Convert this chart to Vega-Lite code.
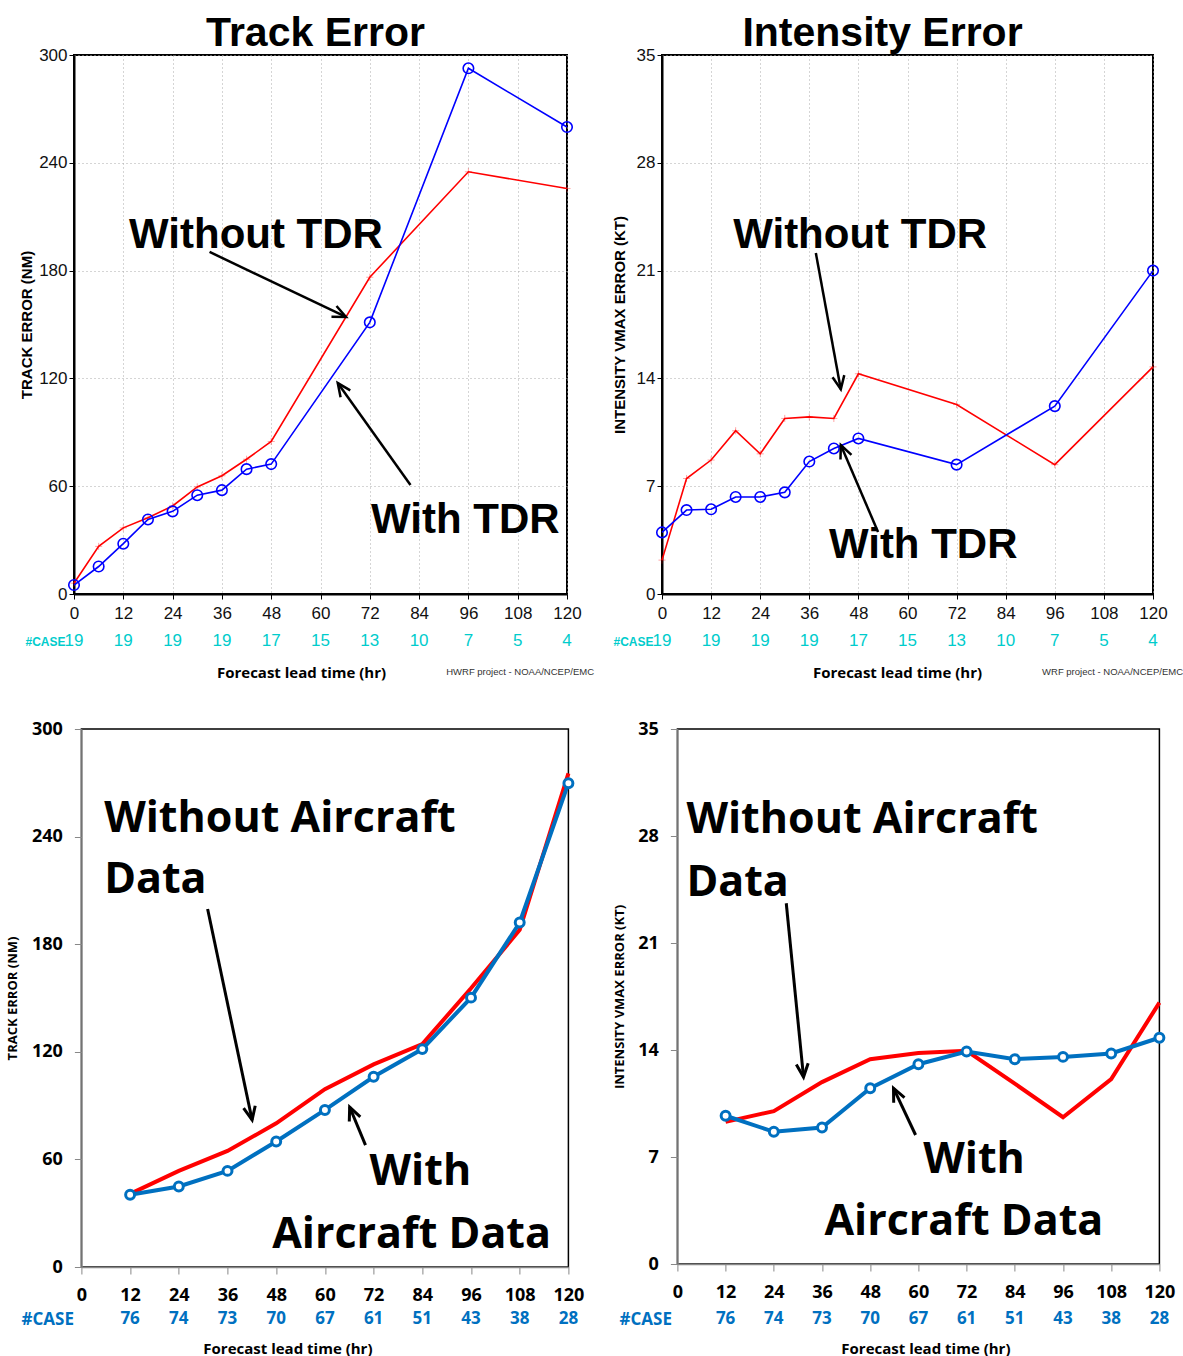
{
  "$schema": "https://vega.github.io/schema/vega-lite/v6.json",
  "background": "white",
  "padding": {"left": 5, "top": 12, "right": 0, "bottom": 0},
  "config": {
    "axis": {"labelFlush": false, "labelOverlap": false},
    "title": {"color": "#000"}
  },
  "datasets": {
    "tl": [
      {"h": 0, "v": 6, "s": "without"}, {"h": 6, "v": 26.5, "s": "without"}, {"h": 12, "v": 36.8, "s": "without"},
      {"h": 18, "v": 42.4, "s": "without"}, {"h": 24, "v": 49, "s": "without"}, {"h": 30, "v": 59.6, "s": "without"},
      {"h": 36, "v": 65.8, "s": "without"}, {"h": 42, "v": 75, "s": "without"}, {"h": 48, "v": 84.9, "s": "without"},
      {"h": 72, "v": 176.3, "s": "without"}, {"h": 96, "v": 235, "s": "without"}, {"h": 120, "v": 225.7, "s": "without"},
      {"h": 0, "v": 5, "s": "with"}, {"h": 6, "v": 15.3, "s": "with"}, {"h": 12, "v": 28, "s": "with"},
      {"h": 18, "v": 41.5, "s": "with"}, {"h": 24, "v": 46, "s": "with"}, {"h": 30, "v": 55, "s": "with"},
      {"h": 36, "v": 57.8, "s": "with"}, {"h": 42, "v": 69.5, "s": "with"}, {"h": 48, "v": 72.3, "s": "with"},
      {"h": 72, "v": 151.2, "s": "with"}, {"h": 96, "v": 292.6, "s": "with"}, {"h": 120, "v": 259.9, "s": "with"}
    ],
    "tr": [
      {"h": 0, "v": 2.2, "s": "without"}, {"h": 6, "v": 7.5, "s": "without"}, {"h": 12, "v": 8.7, "s": "without"},
      {"h": 18, "v": 10.6, "s": "without"}, {"h": 24, "v": 9.1, "s": "without"}, {"h": 30, "v": 11.4, "s": "without"},
      {"h": 36, "v": 11.5, "s": "without"}, {"h": 42, "v": 11.4, "s": "without"}, {"h": 48, "v": 14.3, "s": "without"},
      {"h": 72, "v": 12.3, "s": "without"}, {"h": 96, "v": 8.4, "s": "without"}, {"h": 120, "v": 14.75, "s": "without"},
      {"h": 0, "v": 4.0, "s": "with"}, {"h": 6, "v": 5.45, "s": "with"}, {"h": 12, "v": 5.5, "s": "with"},
      {"h": 18, "v": 6.3, "s": "with"}, {"h": 24, "v": 6.3, "s": "with"}, {"h": 30, "v": 6.6, "s": "with"},
      {"h": 36, "v": 8.6, "s": "with"}, {"h": 42, "v": 9.45, "s": "with"}, {"h": 48, "v": 10.1, "s": "with"},
      {"h": 72, "v": 8.4, "s": "with"}, {"h": 96, "v": 12.2, "s": "with"}, {"h": 120, "v": 21.0, "s": "with"}
    ],
    "bl": [
      {"h": 12, "v": 40.8, "s": "without"}, {"h": 24, "v": 53.6, "s": "without"}, {"h": 36, "v": 64.7, "s": "without"},
      {"h": 48, "v": 80.1, "s": "without"}, {"h": 60, "v": 99.2, "s": "without"}, {"h": 72, "v": 113, "s": "without"},
      {"h": 84, "v": 124.3, "s": "without"}, {"h": 96, "v": 155.4, "s": "without"}, {"h": 108, "v": 188, "s": "without"},
      {"h": 120, "v": 275.3, "s": "without"},
      {"h": 12, "v": 40.3, "s": "with"}, {"h": 24, "v": 44.9, "s": "with"}, {"h": 36, "v": 53.6, "s": "with"},
      {"h": 48, "v": 70, "s": "with"}, {"h": 60, "v": 87.6, "s": "with"}, {"h": 72, "v": 106.1, "s": "with"},
      {"h": 84, "v": 121.5, "s": "with"}, {"h": 96, "v": 150.2, "s": "with"}, {"h": 108, "v": 192.1, "s": "with"},
      {"h": 120, "v": 269.8, "s": "with"}
    ],
    "br": [
      {"h": 12, "v": 9.3, "s": "without"}, {"h": 24, "v": 10.0, "s": "without"}, {"h": 36, "v": 11.9, "s": "without"},
      {"h": 48, "v": 13.4, "s": "without"}, {"h": 60, "v": 13.8, "s": "without"}, {"h": 72, "v": 13.95, "s": "without"},
      {"h": 84, "v": 11.8, "s": "without"}, {"h": 96, "v": 9.6, "s": "without"}, {"h": 108, "v": 12.1, "s": "without"},
      {"h": 120, "v": 17.1, "s": "without"},
      {"h": 12, "v": 9.7, "s": "with"}, {"h": 24, "v": 8.65, "s": "with"}, {"h": 36, "v": 8.93, "s": "with"},
      {"h": 48, "v": 11.5, "s": "with"}, {"h": 60, "v": 13.07, "s": "with"}, {"h": 72, "v": 13.9, "s": "with"},
      {"h": 84, "v": 13.4, "s": "with"}, {"h": 96, "v": 13.55, "s": "with"}, {"h": 108, "v": 13.77, "s": "with"},
      {"h": 120, "v": 14.8, "s": "with"}
    ],
    "ct": [
      {"h": 0, "n": 19, "lab": "#CASE"}, {"h": 12, "n": 19, "lab": "#CASE"}, {"h": 24, "n": 19, "lab": "#CASE"},
      {"h": 36, "n": 19, "lab": "#CASE"}, {"h": 48, "n": 17, "lab": "#CASE"}, {"h": 60, "n": 15, "lab": "#CASE"},
      {"h": 72, "n": 13, "lab": "#CASE"}, {"h": 84, "n": 10, "lab": "#CASE"}, {"h": 96, "n": 7, "lab": "#CASE"},
      {"h": 108, "n": 5, "lab": "#CASE"}, {"h": 120, "n": 4, "lab": "#CASE"}
    ],
    "cb": [
      {"h": 12, "n": 76, "lab": "#CASE"}, {"h": 24, "n": 74, "lab": "#CASE"}, {"h": 36, "n": 73, "lab": "#CASE"},
      {"h": 48, "n": 70, "lab": "#CASE"}, {"h": 60, "n": 67, "lab": "#CASE"}, {"h": 72, "n": 61, "lab": "#CASE"},
      {"h": 84, "n": 51, "lab": "#CASE"}, {"h": 96, "n": 43, "lab": "#CASE"}, {"h": 108, "n": 38, "lab": "#CASE"},
      {"h": 120, "n": 28, "lab": "#CASE"}
    ],
    "ann": [
      {"p": "tl", "x": 13.4, "y": 192.6, "t": "Without TDR"},
      {"p": "tl", "x": 72.3, "y": 34.0, "t": "With TDR"},
      {"p": "tr", "x": 17.4, "y": 22.47, "t": "Without TDR"},
      {"p": "tr", "x": 40.8, "y": 2.34, "t": "With TDR"},
      {"p": "bl", "x": 5.6, "y": 242.6, "t": "Without Aircraft"},
      {"p": "bl", "x": 5.6, "y": 208.5, "t": "Data"},
      {"p": "bl", "x": 71.0, "y": 45.7, "t": "With"},
      {"p": "bl", "x": 47.0, "y": 10.6, "t": "Aircraft Data"},
      {"p": "br", "x": 2.24, "y": 28.2, "t": "Without Aircraft"},
      {"p": "br", "x": 2.24, "y": 24.1, "t": "Data"},
      {"p": "br", "x": 61.2, "y": 5.95, "t": "With"},
      {"p": "br", "x": 36.6, "y": 1.9, "t": "Aircraft Data"}
    ],
    "arr": [
      {"p": "tl", "x": 33.0, "y": 190.4, "x2": 66.2, "y2": 154.2, "a": 115},
      {"p": "tl", "x": 81.9, "y": 60.7, "x2": 64.2, "y2": 117.4, "a": -35.4},
      {"p": "tr", "x": 37.6, "y": 22.14, "x2": 43.7, "y2": 13.3, "a": 169.6},
      {"p": "tr", "x": 52.8, "y": 4.03, "x2": 43.7, "y2": 9.67, "a": -23},
      {"p": "bl", "x": 31.1, "y": 199.6, "x2": 42.06, "y2": 82, "a": 168.2},
      {"p": "bl", "x": 70.0, "y": 68.0, "x2": 66.1, "y2": 89.2, "a": -22.8},
      {"p": "br", "x": 27.1, "y": 23.6, "x2": 31.4, "y2": 12.23, "a": 174.4},
      {"p": "br", "x": 59.3, "y": 8.44, "x2": 53.8, "y2": 11.5, "a": -25}
    ]
  },
  "columns": 1,
  "center": true,
  "spacing": 39,
  "concat": [
    {
      "columns": 2,
      "spacing": {"row": 9, "column": 17},
      "concat": [
        {
          "width": 493, "height": 539,
          "view": {"stroke": "#000", "strokeWidth": 2},
          "title": {"text": "Track Error", "font": "Liberation Sans", "fontSize": 41, "fontWeight": "bold", "frame": "group", "anchor": "middle", "baseline": "alphabetic", "offset": -41, "dx": -5},
          "layer": [
            {
              "data": {"name": "tl"},
              "transform": [{"filter": "datum.s == 'without'"}],
              "mark": {"type": "line", "color": "#FF0000", "strokeWidth": 1.6},
              "encoding": {
                "x": {"field": "h", "type": "quantitative", "scale": {"domain": [0, 120], "nice": false},
                  "axis": {"values": [0, 12, 24, 36, 48, 60, 72, 84, 96, 108, 120], "title": null, "labelFont": "Liberation Sans", "labelFontSize": 17, "labelColor": "#111", "tickSize": 5, "tickColor": "#000", "domainColor": "#000", "domainWidth": 2, "labelPadding": 6, "grid": true, "gridDash": [1, 3], "gridColor": "#aaa"}},
                "y": {"field": "v", "type": "quantitative", "scale": {"domain": [0, 300], "nice": false},
                  "axis": {"values": [0, 60, 120, 180, 240, 300], "title": "TRACK ERROR (NM)", "titleFont": "Liberation Sans", "titleFontSize": 15, "titleFontWeight": "bold", "titlePadding": 4, "titleColor": "#000", "labelFont": "Liberation Sans", "labelFontSize": 17, "labelColor": "#111", "tickSize": 5, "tickColor": "#000", "domainColor": "#000", "domainWidth": 2, "labelPadding": 2, "grid": true, "gridDash": [1, 3], "gridColor": "#aaa"}}
              }
            },
            {
              "data": {"name": "tl"},
              "transform": [{"filter": "datum.s == 'without'"}],
              "mark": {"type": "point", "shape": "M-1,0L1,0M0,-1L0,1", "filled": false, "color": "#FF0000", "opacity": 0.35, "size": 50, "strokeWidth": 1},
              "encoding": {"x": {"field": "h", "type": "quantitative", "scale": {"domain": [0, 120]}}, "y": {"field": "v", "type": "quantitative", "scale": {"domain": [0, 300]}}}
            },
            {
              "data": {"name": "tl"},
              "transform": [{"filter": "datum.s == 'with'"}],
              "mark": {"type": "line", "color": "#0000FF", "strokeWidth": 1.6},
              "encoding": {"x": {"field": "h", "type": "quantitative", "scale": {"domain": [0, 120]}}, "y": {"field": "v", "type": "quantitative", "scale": {"domain": [0, 300]}}}
            },
            {
              "data": {"name": "tl"},
              "transform": [{"filter": "datum.s == 'with'"}],
              "mark": {"type": "point", "shape": "circle", "filled": false, "color": "#0000FF", "opacity": 1, "size": 110, "strokeWidth": 1.6},
              "encoding": {"x": {"field": "h", "type": "quantitative", "scale": {"domain": [0, 120]}}, "y": {"field": "v", "type": "quantitative", "scale": {"domain": [0, 300]}}}
            },
            {
              "data": {"name": "ann"},
              "transform": [{"filter": "datum.p == 'tl'"}],
              "mark": {"type": "text", "font": "Liberation Sans", "fontWeight": "bold", "fontSize": 42, "align": "left", "baseline": "alphabetic", "color": "#000"},
              "encoding": {"x": {"field": "x", "type": "quantitative", "scale": {"domain": [0, 120]}}, "y": {"field": "y", "type": "quantitative", "scale": {"domain": [0, 300]}}, "text": {"field": "t"}}
            },
            {
              "data": {"name": "arr"},
              "transform": [{"filter": "datum.p == 'tl'"}],
              "mark": {"type": "rule", "color": "#000", "strokeWidth": 2.5},
              "encoding": {"x": {"field": "x", "type": "quantitative", "scale": {"domain": [0, 120]}}, "y": {"field": "y", "type": "quantitative", "scale": {"domain": [0, 300]}}, "x2": {"field": "x2"}, "y2": {"field": "y2"}}
            },
            {
              "data": {"name": "arr"},
              "transform": [{"filter": "datum.p == 'tl'"}],
              "mark": {"type": "point", "shape": "M-0.45,1L0,0L0.45,1", "filled": false, "color": "#000", "opacity": 1, "size": 700, "strokeWidth": 2.5},
              "encoding": {"x": {"field": "x2", "type": "quantitative", "scale": {"domain": [0, 120]}}, "y": {"field": "y2", "type": "quantitative", "scale": {"domain": [0, 300]}}, "angle": {"field": "a", "type": "quantitative", "scale": null}}
            }
          ]
        },
        {
          "width": 491, "height": 539,
          "view": {"stroke": "#000", "strokeWidth": 2},
          "title": {"text": "Intensity Error", "font": "Liberation Sans", "fontSize": 41, "fontWeight": "bold", "frame": "group", "anchor": "middle", "baseline": "alphabetic", "offset": -41, "dx": -25},
          "layer": [
            {
              "data": {"name": "tr"},
              "transform": [{"filter": "datum.s == 'without'"}],
              "mark": {"type": "line", "color": "#FF0000", "strokeWidth": 1.6},
              "encoding": {
                "x": {"field": "h", "type": "quantitative", "scale": {"domain": [0, 120], "nice": false},
                  "axis": {"values": [0, 12, 24, 36, 48, 60, 72, 84, 96, 108, 120], "title": null, "labelFont": "Liberation Sans", "labelFontSize": 17, "labelColor": "#111", "tickSize": 5, "tickColor": "#000", "domainColor": "#000", "domainWidth": 2, "labelPadding": 6, "grid": true, "gridDash": [1, 3], "gridColor": "#aaa"}},
                "y": {"field": "v", "type": "quantitative", "scale": {"domain": [0, 35], "nice": false},
                  "axis": {"values": [0, 7, 14, 21, 28, 35], "title": "INTENSITY VMAX ERROR (KT)", "titleFont": "Liberation Sans", "titleFontSize": 15, "titleFontWeight": "bold", "titlePadding": 9, "titleColor": "#000", "labelFont": "Liberation Sans", "labelFontSize": 17, "labelColor": "#111", "tickSize": 5, "tickColor": "#000", "domainColor": "#000", "domainWidth": 2, "labelPadding": 2, "grid": true, "gridDash": [1, 3], "gridColor": "#aaa"}}
              }
            },
            {
              "data": {"name": "tr"},
              "transform": [{"filter": "datum.s == 'without'"}],
              "mark": {"type": "point", "shape": "M-1,0L1,0M0,-1L0,1", "filled": false, "color": "#FF0000", "opacity": 0.35, "size": 50, "strokeWidth": 1},
              "encoding": {"x": {"field": "h", "type": "quantitative", "scale": {"domain": [0, 120]}}, "y": {"field": "v", "type": "quantitative", "scale": {"domain": [0, 35]}}}
            },
            {
              "data": {"name": "tr"},
              "transform": [{"filter": "datum.s == 'with'"}],
              "mark": {"type": "line", "color": "#0000FF", "strokeWidth": 1.6},
              "encoding": {"x": {"field": "h", "type": "quantitative", "scale": {"domain": [0, 120]}}, "y": {"field": "v", "type": "quantitative", "scale": {"domain": [0, 35]}}}
            },
            {
              "data": {"name": "tr"},
              "transform": [{"filter": "datum.s == 'with'"}],
              "mark": {"type": "point", "shape": "circle", "filled": false, "color": "#0000FF", "opacity": 1, "size": 110, "strokeWidth": 1.6},
              "encoding": {"x": {"field": "h", "type": "quantitative", "scale": {"domain": [0, 120]}}, "y": {"field": "v", "type": "quantitative", "scale": {"domain": [0, 35]}}}
            },
            {
              "data": {"name": "ann"},
              "transform": [{"filter": "datum.p == 'tr'"}],
              "mark": {"type": "text", "font": "Liberation Sans", "fontWeight": "bold", "fontSize": 42, "align": "left", "baseline": "alphabetic", "color": "#000"},
              "encoding": {"x": {"field": "x", "type": "quantitative", "scale": {"domain": [0, 120]}}, "y": {"field": "y", "type": "quantitative", "scale": {"domain": [0, 35]}}, "text": {"field": "t"}}
            },
            {
              "data": {"name": "arr"},
              "transform": [{"filter": "datum.p == 'tr'"}],
              "mark": {"type": "rule", "color": "#000", "strokeWidth": 2.5},
              "encoding": {"x": {"field": "x", "type": "quantitative", "scale": {"domain": [0, 120]}}, "y": {"field": "y", "type": "quantitative", "scale": {"domain": [0, 35]}}, "x2": {"field": "x2"}, "y2": {"field": "y2"}}
            },
            {
              "data": {"name": "arr"},
              "transform": [{"filter": "datum.p == 'tr'"}],
              "mark": {"type": "point", "shape": "M-0.45,1L0,0L0.45,1", "filled": false, "color": "#000", "opacity": 1, "size": 700, "strokeWidth": 2.5},
              "encoding": {"x": {"field": "x2", "type": "quantitative", "scale": {"domain": [0, 120]}}, "y": {"field": "y2", "type": "quantitative", "scale": {"domain": [0, 35]}}, "angle": {"field": "a", "type": "quantitative", "scale": null}}
            }
          ]
        },
        {
          "width": 493, "height": 20,
          "view": {"stroke": null},
          "data": {"name": "ct"},
          "title": {"text": "HWRF project - NOAA/NCEP/EMC", "orient": "bottom", "anchor": "end", "frame": "group", "fontSize": 9.5, "fontWeight": "normal", "font": "Liberation Sans", "color": "#333", "offset": -13, "dx": 27},
          "mark": {"type": "text", "font": "Liberation Sans", "fontSize": 17, "color": "#00CCCC"},
          "encoding": {
            "x": {"field": "h", "type": "quantitative", "scale": {"domain": [0, 120], "nice": false}, "axis": {"title": "Forecast lead time (hr)", "labels": false, "ticks": false, "domain": false, "grid": false, "titleFont": "Open Sans", "titleFontSize": 15, "titleFontWeight": "bold", "titleColor": "#000", "titlePadding": 14, "titleX": 227}},
            "y": {"field": "lab", "type": "nominal", "axis": {"title": null, "domain": false, "ticks": false, "grid": false, "labelColor": "#00CCCC", "labelFont": "Liberation Sans", "labelFontWeight": "bold", "labelFontSize": 12, "labelPadding": 9}},
            "text": {"field": "n"}
          }
        },
        {
          "width": 491, "height": 20,
          "view": {"stroke": null},
          "data": {"name": "ct"},
          "title": {"text": "WRF project - NOAA/NCEP/EMC", "orient": "bottom", "anchor": "end", "frame": "group", "fontSize": 9.5, "fontWeight": "normal", "font": "Liberation Sans", "color": "#333", "offset": -13, "dx": 30},
          "mark": {"type": "text", "font": "Liberation Sans", "fontSize": 17, "color": "#00CCCC"},
          "encoding": {
            "x": {"field": "h", "type": "quantitative", "scale": {"domain": [0, 120], "nice": false}, "axis": {"title": "Forecast lead time (hr)", "labels": false, "ticks": false, "domain": false, "grid": false, "titleFont": "Open Sans", "titleFontSize": 15, "titleFontWeight": "bold", "titleColor": "#000", "titlePadding": 14, "titleX": 235}},
            "y": {"field": "lab", "type": "nominal", "axis": {"title": null, "domain": false, "ticks": false, "grid": false, "labelColor": "#00CCCC", "labelFont": "Liberation Sans", "labelFontWeight": "bold", "labelFontSize": 12, "labelPadding": 9}},
            "text": {"field": "n"}
          }
        }
      ]
    },
    {
      "columns": 2,
      "spacing": {"row": 5, "column": 27},
      "concat": [
        {
          "width": 487, "height": 538,
          "view": {"stroke": "#000", "strokeWidth": 1.5},
          "layer": [
            {
              "data": {"name": "bl"},
              "transform": [{"filter": "datum.s == 'without'"}],
              "mark": {"type": "line", "color": "#FF0000", "strokeWidth": 4},
              "encoding": {
                "x": {"field": "h", "type": "quantitative", "scale": {"domain": [0, 120], "nice": false},
                  "axis": {"values": [0, 12, 24, 36, 48, 60, 72, 84, 96, 108, 120], "title": null, "labelFont": "Open Sans", "labelFontWeight": "bold", "labelFontSize": 18, "labelColor": "#000", "tickSize": 7, "tickColor": "#888", "domainColor": "#888", "domainWidth": 1.5, "labelPadding": 12, "grid": false}},
                "y": {"field": "v", "type": "quantitative", "scale": {"domain": [0, 300], "nice": false},
                  "axis": {"values": [0, 60, 120, 180, 240, 300], "title": "TRACK ERROR (NM)", "titleFont": "Open Sans", "titleFontSize": 13, "titleFontWeight": "bold", "titlePadding": 12, "titleColor": "#000", "labelFont": "Open Sans", "labelFontWeight": "bold", "labelFontSize": 18, "labelColor": "#000", "tickSize": 7, "tickColor": "#888", "domainColor": "#888", "domainWidth": 1.5, "labelPadding": 12, "grid": false}}
              }
            },
            {
              "data": {"name": "bl"},
              "transform": [{"filter": "datum.s == 'with'"}],
              "mark": {"type": "line", "color": "#0070C0", "strokeWidth": 4},
              "encoding": {"x": {"field": "h", "type": "quantitative", "scale": {"domain": [0, 120]}}, "y": {"field": "v", "type": "quantitative", "scale": {"domain": [0, 300]}}}
            },
            {
              "data": {"name": "bl"},
              "transform": [{"filter": "datum.s == 'with'"}],
              "mark": {"type": "point", "shape": "circle", "filled": true, "fill": "white", "stroke": "#0070C0", "opacity": 1, "size": 80, "strokeWidth": 3},
              "encoding": {"x": {"field": "h", "type": "quantitative", "scale": {"domain": [0, 120]}}, "y": {"field": "v", "type": "quantitative", "scale": {"domain": [0, 300]}}}
            },
            {
              "data": {"name": "ann"},
              "transform": [{"filter": "datum.p == 'bl'"}],
              "mark": {"type": "text", "font": "Open Sans", "fontWeight": "bold", "fontSize": 43, "align": "left", "baseline": "alphabetic", "color": "#000"},
              "encoding": {"x": {"field": "x", "type": "quantitative", "scale": {"domain": [0, 120]}}, "y": {"field": "y", "type": "quantitative", "scale": {"domain": [0, 300]}}, "text": {"field": "t"}}
            },
            {
              "data": {"name": "arr"},
              "transform": [{"filter": "datum.p == 'bl'"}],
              "mark": {"type": "rule", "color": "#000", "strokeWidth": 3},
              "encoding": {"x": {"field": "x", "type": "quantitative", "scale": {"domain": [0, 120]}}, "y": {"field": "y", "type": "quantitative", "scale": {"domain": [0, 300]}}, "x2": {"field": "x2"}, "y2": {"field": "y2"}}
            },
            {
              "data": {"name": "arr"},
              "transform": [{"filter": "datum.p == 'bl'"}],
              "mark": {"type": "point", "shape": "M-0.45,1L0,0L0.45,1", "filled": false, "color": "#000", "opacity": 1, "size": 700, "strokeWidth": 3},
              "encoding": {"x": {"field": "x2", "type": "quantitative", "scale": {"domain": [0, 120]}}, "y": {"field": "y2", "type": "quantitative", "scale": {"domain": [0, 300]}}, "angle": {"field": "a", "type": "quantitative", "scale": null}}
            }
          ]
        },
        {
          "width": 482, "height": 535,
          "view": {"stroke": "#000", "strokeWidth": 1.5},
          "layer": [
            {
              "data": {"name": "br"},
              "transform": [{"filter": "datum.s == 'without'"}],
              "mark": {"type": "line", "color": "#FF0000", "strokeWidth": 4},
              "encoding": {
                "x": {"field": "h", "type": "quantitative", "scale": {"domain": [0, 120], "nice": false},
                  "axis": {"values": [0, 12, 24, 36, 48, 60, 72, 84, 96, 108, 120], "title": null, "labelFont": "Open Sans", "labelFontWeight": "bold", "labelFontSize": 18, "labelColor": "#000", "tickSize": 7, "tickColor": "#888", "domainColor": "#888", "domainWidth": 1.5, "labelPadding": 12, "grid": false}},
                "y": {"field": "v", "type": "quantitative", "scale": {"domain": [0, 35], "nice": false},
                  "axis": {"values": [0, 7, 14, 21, 28, 35], "title": "INTENSITY VMAX ERROR (KT)", "titleFont": "Open Sans", "titleFontSize": 13, "titleFontWeight": "bold", "titlePadding": 11, "titleColor": "#000", "labelFont": "Open Sans", "labelFontWeight": "bold", "labelFontSize": 18, "labelColor": "#000", "tickSize": 7, "tickColor": "#888", "domainColor": "#888", "domainWidth": 1.5, "labelPadding": 12, "grid": false}}
              }
            },
            {
              "data": {"name": "br"},
              "transform": [{"filter": "datum.s == 'with'"}],
              "mark": {"type": "line", "color": "#0070C0", "strokeWidth": 4},
              "encoding": {"x": {"field": "h", "type": "quantitative", "scale": {"domain": [0, 120]}}, "y": {"field": "v", "type": "quantitative", "scale": {"domain": [0, 35]}}}
            },
            {
              "data": {"name": "br"},
              "transform": [{"filter": "datum.s == 'with'"}],
              "mark": {"type": "point", "shape": "circle", "filled": true, "fill": "white", "stroke": "#0070C0", "opacity": 1, "size": 80, "strokeWidth": 3},
              "encoding": {"x": {"field": "h", "type": "quantitative", "scale": {"domain": [0, 120]}}, "y": {"field": "v", "type": "quantitative", "scale": {"domain": [0, 35]}}}
            },
            {
              "data": {"name": "ann"},
              "transform": [{"filter": "datum.p == 'br'"}],
              "mark": {"type": "text", "font": "Open Sans", "fontWeight": "bold", "fontSize": 43, "align": "left", "baseline": "alphabetic", "color": "#000"},
              "encoding": {"x": {"field": "x", "type": "quantitative", "scale": {"domain": [0, 120]}}, "y": {"field": "y", "type": "quantitative", "scale": {"domain": [0, 35]}}, "text": {"field": "t"}}
            },
            {
              "data": {"name": "arr"},
              "transform": [{"filter": "datum.p == 'br'"}],
              "mark": {"type": "rule", "color": "#000", "strokeWidth": 3},
              "encoding": {"x": {"field": "x", "type": "quantitative", "scale": {"domain": [0, 120]}}, "y": {"field": "y", "type": "quantitative", "scale": {"domain": [0, 35]}}, "x2": {"field": "x2"}, "y2": {"field": "y2"}}
            },
            {
              "data": {"name": "arr"},
              "transform": [{"filter": "datum.p == 'br'"}],
              "mark": {"type": "point", "shape": "M-0.45,1L0,0L0.45,1", "filled": false, "color": "#000", "opacity": 1, "size": 700, "strokeWidth": 3},
              "encoding": {"x": {"field": "x2", "type": "quantitative", "scale": {"domain": [0, 120]}}, "y": {"field": "y2", "type": "quantitative", "scale": {"domain": [0, 35]}}, "angle": {"field": "a", "type": "quantitative", "scale": null}}
            }
          ]
        },
        {
          "width": 487, "height": 16,
          "view": {"stroke": null},
          "data": {"name": "cb"},
          "mark": {"type": "text", "font": "Open Sans", "fontWeight": "bold", "fontSize": 17, "color": "#0070C0"},
          "encoding": {
            "x": {"field": "h", "type": "quantitative", "scale": {"domain": [0, 120], "nice": false}, "axis": {"title": "Forecast lead time (hr)", "labels": false, "ticks": false, "domain": false, "grid": false, "titleFont": "Open Sans", "titleFontSize": 15, "titleFontWeight": "bold", "titleColor": "#000", "titlePadding": 14, "titleX": 206}},
            "y": {"field": "lab", "type": "nominal", "axis": {"title": null, "domain": false, "ticks": false, "grid": false, "labelColor": "#0070C0", "labelFont": "Open Sans", "labelFontWeight": "bold", "labelFontSize": 17, "labelPadding": 8}},
            "text": {"field": "n"}
          }
        },
        {
          "width": 482, "height": 16,
          "view": {"stroke": null},
          "data": {"name": "cb"},
          "mark": {"type": "text", "font": "Open Sans", "fontWeight": "bold", "fontSize": 17, "color": "#0070C0"},
          "encoding": {
            "x": {"field": "h", "type": "quantitative", "scale": {"domain": [0, 120], "nice": false}, "axis": {"title": "Forecast lead time (hr)", "labels": false, "ticks": false, "domain": false, "grid": false, "titleFont": "Open Sans", "titleFontSize": 15, "titleFontWeight": "bold", "titleColor": "#000", "titlePadding": 14, "titleX": 248}},
            "y": {"field": "lab", "type": "nominal", "axis": {"title": null, "domain": false, "ticks": false, "grid": false, "labelColor": "#0070C0", "labelFont": "Open Sans", "labelFontWeight": "bold", "labelFontSize": 17, "labelPadding": 6}},
            "text": {"field": "n"}
          }
        }
      ]
    }
  ]
}
